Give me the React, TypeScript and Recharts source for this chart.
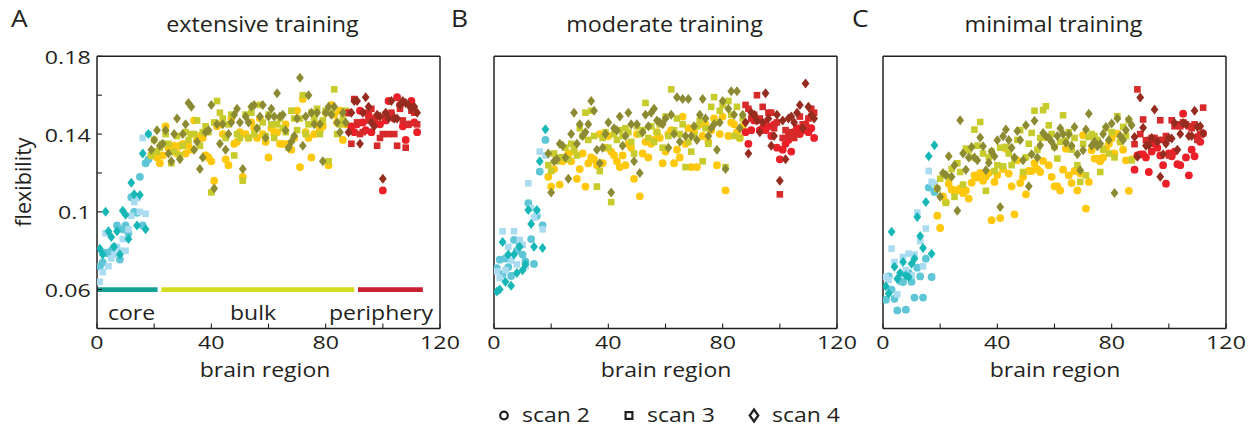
import React from "react";
import { ScatterChart, Scatter, XAxis, YAxis, ReferenceLine } from "recharts";

const W = 1258;
const H = 436;
const FONT = '"Open Sans", sans-serif';
const INK = "#231f20";
const SX = 1.22;

const X_TICKS = [0, 20, 40, 60, 80, 100, 120];
const X_LABELED = [0, 40, 80, 120];
const Y_TICKS = [0.06, 0.08, 0.1, 0.12, 0.14, 0.16, 0.18];
const Y_LABELED = [0.06, 0.1, 0.14, 0.18];

// regions 1..18 core, 19..87 bulk, 88..112 periphery
const CORE_LAST = 18;
const BULK_LAST = 87;

// extensive training
const extScan2 = [
  0.072, 0.074, 0.079, 0.0785, 0.08, 0.082, 0.093, 0.0755, 0.091, 0.093, 0.089, 0.1075, 0.1, 0.0995, 0.118, 0.093, 0.125, 0.127,
  0.129, 0.131, 0.128, 0.125, 0.129, 0.144, 0.133, 0.131, 0.134, 0.13, 0.134, 0.135, 0.13, 0.134, 0.132, 0.147, 0.137, 0.139,
  0.138, 0.129, 0.128, 0.126, 0.116, 0.144, 0.145, 0.14, 0.127, 0.124, 0.148, 0.135, 0.136, 0.141, 0.118, 0.14, 0.138, 0.146,
  0.143, 0.138, 0.148, 0.14, 0.136, 0.128, 0.143, 0.14, 0.141, 0.135, 0.135, 0.145, 0.135, 0.132, 0.138, 0.152, 0.123, 0.158,
  0.141, 0.138, 0.128, 0.14, 0.145, 0.142, 0.144, 0.151, 0.124, 0.155, 0.15, 0.146, 0.152, 0.137, 0.145,
  0.151, 0.144, 0.141, 0.145, 0.152, 0.146, 0.142, 0.15, 0.141, 0.147, 0.149, 0.145, 0.111, 0.147, 0.157, 0.15, 0.148, 0.159,
  0.155, 0.144, 0.137, 0.145, 0.157, 0.146, 0.141,
];
const extScan3 = [
  0.064, 0.069, 0.089, 0.072, 0.076, 0.078, 0.082, 0.08, 0.086, 0.08, 0.091, 0.098, 0.105, 0.107, 0.1, 0.138, 0.099, 0.14,
  0.129, 0.137, 0.131, 0.133, 0.135, 0.14, 0.135, 0.125, 0.131, 0.139, 0.129, 0.134, 0.141, 0.137, 0.14, 0.14, 0.147, 0.134,
  0.141, 0.144, 0.141, 0.11, 0.146, 0.157, 0.151, 0.148, 0.138, 0.145, 0.15, 0.129, 0.14, 0.138, 0.116, 0.15, 0.138, 0.151,
  0.14, 0.143, 0.155, 0.146, 0.139, 0.15, 0.145, 0.138, 0.145, 0.148, 0.143, 0.141, 0.133, 0.152, 0.148, 0.142, 0.148, 0.16,
  0.14, 0.145, 0.151, 0.148, 0.153, 0.14, 0.147, 0.152, 0.126, 0.151, 0.163, 0.14, 0.145, 0.148, 0.152,
  0.151, 0.135, 0.158, 0.146, 0.14, 0.141, 0.151, 0.147, 0.153, 0.148, 0.134, 0.138, 0.14, 0.15, 0.14, 0.151, 0.14, 0.134,
  0.153, 0.147, 0.133, 0.145, 0.152, 0.151, 0.145,
];
const extScan4 = [
  0.081, 0.078, 0.1, 0.09, 0.087, 0.082, 0.09, 0.078, 0.1005, 0.0985, 0.086, 0.115, 0.109, 0.093, 0.1087, 0.13, 0.091, 0.14,
  0.132, 0.137, 0.142, 0.134, 0.135, 0.142, 0.13, 0.126, 0.14, 0.148, 0.127, 0.14, 0.145, 0.156, 0.154, 0.132, 0.136, 0.122,
  0.128, 0.141, 0.142, 0.155, 0.112, 0.145, 0.135, 0.145, 0.132, 0.14, 0.146, 0.15, 0.153, 0.146, 0.122, 0.149, 0.146, 0.154,
  0.155, 0.143, 0.149, 0.155, 0.138, 0.149, 0.153, 0.149, 0.161, 0.149, 0.15, 0.142, 0.133, 0.136, 0.139, 0.148, 0.169, 0.134,
  0.149, 0.16, 0.151, 0.145, 0.151, 0.145, 0.126, 0.151, 0.154, 0.15, 0.154, 0.146, 0.141, 0.151, 0.146,
  0.141, 0.151, 0.157, 0.157, 0.135, 0.151, 0.159, 0.154, 0.146, 0.144, 0.15, 0.149, 0.117, 0.151, 0.148, 0.157, 0.148, 0.148,
  0.155, 0.157, 0.156, 0.155, 0.153, 0.154, 0.151,
];

// moderate training
const modScan2 = [
  0.071, 0.0754, 0.068, 0.076, 0.0716, 0.067, 0.0856, 0.08, 0.083, 0.078, 0.0745, 0.1045, 0.086, 0.0732, 0.098, 0.1207, 0.093, 0.137,
  0.118, 0.113, 0.122, 0.127, 0.114, 0.126, 0.128, 0.13, 0.126, 0.131, 0.117, 0.122, 0.13, 0.113, 0.125, 0.128, 0.127, 0.124,
  0.14, 0.125, 0.133, 0.139, 0.131, 0.129, 0.126, 0.123, 0.129, 0.124, 0.135, 0.133, 0.117, 0.14, 0.108, 0.13, 0.136, 0.128,
  0.135, 0.137, 0.141, 0.138, 0.125, 0.131, 0.14, 0.142, 0.125, 0.132, 0.128, 0.149, 0.135, 0.143, 0.123, 0.141, 0.123, 0.145,
  0.139, 0.145, 0.136, 0.142, 0.148, 0.124, 0.14, 0.149, 0.111, 0.139, 0.146, 0.145, 0.141, 0.138, 0.144,
  0.141, 0.135, 0.142, 0.147, 0.147, 0.142, 0.143, 0.142, 0.144, 0.139, 0.145, 0.133, 0.127, 0.132, 0.135, 0.137, 0.131, 0.141,
  0.143, 0.14, 0.142, 0.145, 0.141, 0.143, 0.138,
];
const modScan3 = [
  0.0694, 0.066, 0.09, 0.07, 0.082, 0.075, 0.09, 0.073, 0.0856, 0.083, 0.072, 0.1147, 0.102, 0.097, 0.1, 0.131, 0.091, 0.129,
  0.124, 0.121, 0.13, 0.126, 0.128, 0.128, 0.133, 0.127, 0.135, 0.132, 0.129, 0.143, 0.139, 0.151, 0.137, 0.152, 0.139, 0.113,
  0.121, 0.138, 0.141, 0.133, 0.105, 0.14, 0.137, 0.142, 0.139, 0.143, 0.141, 0.136, 0.13, 0.144, 0.14, 0.142, 0.156, 0.138,
  0.144, 0.136, 0.141, 0.145, 0.133, 0.149, 0.139, 0.163, 0.142, 0.148, 0.14, 0.145, 0.123, 0.136, 0.131, 0.139, 0.144, 0.147,
  0.126, 0.143, 0.135, 0.154, 0.159, 0.146, 0.152, 0.155, 0.123, 0.157, 0.15, 0.139, 0.154, 0.138, 0.148,
  0.155, 0.153, 0.148, 0.15, 0.16, 0.148, 0.154, 0.146, 0.151, 0.151, 0.143, 0.146, 0.109, 0.138, 0.142, 0.139, 0.141, 0.138,
  0.14, 0.149, 0.145, 0.144, 0.148, 0.153, 0.151,
];
const modScan4 = [
  0.059, 0.06, 0.0845, 0.064, 0.078, 0.062, 0.078, 0.0685, 0.082, 0.07, 0.073, 0.101, 0.0937, 0.082, 0.101, 0.126, 0.0814, 0.1425,
  0.13, 0.11, 0.126, 0.127, 0.135, 0.134, 0.128, 0.117, 0.14, 0.151, 0.135, 0.145, 0.139, 0.141, 0.145, 0.157, 0.152, 0.132,
  0.125, 0.133, 0.14, 0.146, 0.11, 0.143, 0.142, 0.149, 0.134, 0.139, 0.151, 0.145, 0.126, 0.145, 0.12, 0.141, 0.15, 0.144,
  0.151, 0.153, 0.147, 0.146, 0.145, 0.148, 0.133, 0.15, 0.14, 0.159, 0.136, 0.158, 0.139, 0.158, 0.139, 0.144, 0.137, 0.15,
  0.158, 0.148, 0.139, 0.143, 0.145, 0.132, 0.146, 0.157, 0.122, 0.153, 0.162, 0.15, 0.162, 0.143, 0.15,
  0.146, 0.13, 0.151, 0.15, 0.147, 0.141, 0.146, 0.161, 0.148, 0.134, 0.139, 0.15, 0.116, 0.147, 0.127, 0.148, 0.149, 0.146,
  0.151, 0.155, 0.143, 0.166, 0.154, 0.15, 0.148,
];

// minimal training
const minScan2 = [
  0.0548, 0.0668, 0.06, 0.0553, 0.0493, 0.0644, 0.0639, 0.0497, 0.0686, 0.064, 0.0559, 0.0713, 0.0668, 0.0559, 0.0759, 0.1125, 0.0665, 0.1102,
  0.098, 0.0917, 0.108, 0.105, 0.1145, 0.1115, 0.111, 0.111, 0.112, 0.1097, 0.111, 0.1068, 0.115, 0.1188, 0.1176, 0.12, 0.116, 0.118,
  0.12, 0.0957, 0.1154, 0.119, 0.0968, 0.122, 0.1325, 0.1197, 0.1131, 0.0987, 0.1265, 0.1148, 0.118, 0.109, 0.121, 0.121, 0.125, 0.122,
  0.1205, 0.1262, 0.1385, 0.124, 0.118, 0.1131, 0.1131, 0.111, 0.1217, 0.1325, 0.1188, 0.1148, 0.121, 0.111, 0.1197, 0.1394, 0.1017, 0.1154,
  0.1317, 0.1274, 0.1274, 0.126, 0.128, 0.1325, 0.135, 0.1377, 0.13, 0.1402, 0.136, 0.132, 0.1265, 0.1108, 0.127,
  0.1217, 0.129, 0.1296, 0.1296, 0.128, 0.1205, 0.131, 0.135, 0.133, 0.129, 0.124, 0.1145, 0.13, 0.1286, 0.131, 0.1245, 0.124, 0.1505,
  0.128, 0.1188, 0.132, 0.1286, 0.1385, 0.136, 0.1403,
];
const minScan3 = [
  0.0665, 0.065, 0.0811, 0.0742, 0.0576, 0.068, 0.0768, 0.07, 0.0785, 0.0673, 0.078, 0.0996, 0.085, 0.072, 0.0914, 0.121, 0.1154, 0.1145,
  0.112, 0.117, 0.1188, 0.1046, 0.118, 0.122, 0.1077, 0.125, 0.1205, 0.114, 0.1325, 0.1317, 0.128, 0.1423, 0.134, 0.1462, 0.13, 0.1108,
  0.128, 0.131, 0.121, 0.124, 0.133, 0.1234, 0.1334, 0.13, 0.124, 0.127, 0.137, 0.142, 0.1205, 0.128, 0.135, 0.1406, 0.152, 0.132,
  0.138, 0.1523, 0.1543, 0.1445, 0.14, 0.1334, 0.1274, 0.136, 0.1497, 0.1368, 0.141, 0.132, 0.138, 0.124, 0.1154, 0.135, 0.1188, 0.1385,
  0.14, 0.139, 0.137, 0.1205, 0.132, 0.143, 0.13, 0.141, 0.128, 0.1492, 0.136, 0.1437, 0.139, 0.1471, 0.1265,
  0.1348, 0.163, 0.14, 0.1475, 0.1368, 0.137, 0.138, 0.138, 0.137, 0.1471, 0.137, 0.139, 0.129, 0.1471, 0.144, 0.145, 0.144, 0.146,
  0.145, 0.144, 0.143, 0.145, 0.137, 0.14, 0.1536,
];
const minScan4 = [
  0.0617, 0.058, 0.0897, 0.0717, 0.0656, 0.0686, 0.0742, 0.0673, 0.0665, 0.0733, 0.0759, 0.0974, 0.0876, 0.0814, 0.1051, 0.1286, 0.0785, 0.1343,
  0.112, 0.1077, 0.12, 0.119, 0.1286, 0.118, 0.124, 0.1005, 0.1471, 0.13, 0.1217, 0.128, 0.1334, 0.128, 0.1265, 0.1382, 0.1337, 0.1214,
  0.1252, 0.131, 0.1286, 0.1368, 0.1025, 0.1389, 0.1423, 0.137, 0.133, 0.128, 0.1416, 0.137, 0.1265, 0.1445, 0.1131, 0.1296, 0.1468, 0.128,
  0.1342, 0.1406, 0.1389, 0.138, 0.136, 0.1334, 0.139, 0.143, 0.14, 0.1355, 0.1399, 0.134, 0.1437, 0.1296, 0.1214, 0.1317, 0.1423, 0.1505,
  0.134, 0.136, 0.1337, 0.135, 0.14, 0.1437, 0.137, 0.1454, 0.1097, 0.148, 0.139, 0.137, 0.142, 0.1475, 0.1445,
  0.1385, 0.1283, 0.1588, 0.1433, 0.134, 0.1342, 0.138, 0.1526, 0.136, 0.118, 0.1296, 0.135, 0.138, 0.1377, 0.1457, 0.132, 0.14, 0.1457,
  0.145, 0.139, 0.139, 0.152, 0.1437, 0.144, 0.1403,
];

const GROUPS = [
  { name: "core", first: 1, last: CORE_LAST, colors: ["#5ec6d6", "#aadcf1", "#16b7b6"] },
  { name: "bulk", first: CORE_LAST + 1, last: BULK_LAST, colors: ["#ffc80c", "#c7cb2c", "#8c8b33"] },
  { name: "periphery", first: BULK_LAST + 1, last: 112, colors: ["#eb1f28", "#d72a2b", "#962c20"] },
];
const BAR_COLORS = ["#15a196", "#d6dd21", "#c81f33"];
const BAR_SPANS = [[0, 21.2], [22.5, 90], [91.3, 114]];
const SHAPES = ["circle", "square", "diamond"];

const PLOT_TOP = 56.3;
const PLOT_BOTTOM = 328.5;

const PANELS = [
  { letter: "A", title: "extensive training", left: 97, right: 440, scans: [extScan2, extScan3, extScan4], first: true },
  { letter: "B", title: "moderate training", left: 494, right: 837, scans: [modScan2, modScan3, modScan4], first: false },
  { letter: "C", title: "minimal training", left: 883, right: 1226, scans: [minScan2, minScan3, minScan4], first: false },
];

function points(values: number[], first: number, last: number) {
  return values.slice(first - 1, last).map((v, i) => ({ x: first + i, y: v }));
}

function marker(kind: string, color: string) {
  return (props: any) => {
    const { cx, cy } = props;
    if (cx == null || cy == null) return <g />;
    if (kind === "circle") return <circle cx={cx} cy={cy} r={3.9} fill={color} />;
    if (kind === "square") return <rect x={cx - 3.3} y={cy - 3.3} width={6.6} height={6.6} fill={color} />;
    return (
      <polygon
        points={`${cx},${cy - 5} ${cx + 3.9},${cy} ${cx},${cy + 5} ${cx - 3.9},${cy}`}
        fill={color}
      />
    );
  };
}

const XTick = (props: any) => {
  const { x, y, payload } = props;
  if (!X_LABELED.includes(payload.value)) return <g />;
  return (
    <text
      transform={`translate(${x},${y}) scale(${SX},1)`}
      textAnchor="middle"
      dy={6.8}
      fontFamily={FONT}
      fontWeight={500}
      fontSize={19}
      fill={INK}
    >
      {payload.value}
    </text>
  );
};

const YTick = (props: any) => {
  const { x, y, payload } = props;
  if (!Y_LABELED.includes(payload.value)) return <g />;
  return (
    <text
      transform={`translate(${x},${y}) scale(${SX},1)`}
      textAnchor="end"
      dy={7.6}
      fontFamily={FONT}
      fontWeight={500}
      fontSize={19}
      fill={INK}
    >
      {String(payload.value)}
    </text>
  );
};

const axisLine = { stroke: INK, strokeWidth: 1.5 };
const tickLine = { stroke: INK, strokeWidth: 1.1 };

function Panel({ panel }: { panel: (typeof PANELS)[number] }) {
  const margin = {
    top: PLOT_TOP - 10,
    right: W - panel.right - 10,
    bottom: H - PLOT_BOTTOM - 40,
    left: panel.left - 40,
  };
  return (
    <div style={{ position: "absolute", left: 0, top: 0 }}>
      <ScatterChart width={W} height={H} margin={margin}>
        <XAxis
          type="number"
          dataKey="x"
          domain={[0, 120]}
          ticks={X_TICKS}
          interval={0}
          height={40}
          tickSize={-5}
          tickMargin={19}
          tick={<XTick />}
          axisLine={axisLine}
          tickLine={tickLine}
          allowDataOverflow
        />
        <XAxis
          xAxisId="top"
          orientation="top"
          type="number"
          domain={[0, 120]}
          ticks={X_TICKS}
          interval={0}
          height={10}
          tickSize={-5}
          tick={false}
          axisLine={axisLine}
          tickLine={tickLine}
          allowDataOverflow
        />
        <YAxis
          type="number"
          dataKey="y"
          domain={[0.04, 0.18]}
          ticks={Y_TICKS}
          interval={0}
          width={40}
          tickSize={-5}
          tickMargin={11.3}
          tick={panel.first ? <YTick /> : false}
          axisLine={axisLine}
          tickLine={tickLine}
          allowDataOverflow
        />
        <YAxis
          yAxisId="right"
          orientation="right"
          type="number"
          domain={[0.04, 0.18]}
          ticks={Y_TICKS}
          interval={0}
          width={10}
          tickSize={-5}
          tick={false}
          axisLine={axisLine}
          tickLine={tickLine}
          allowDataOverflow
        />
        {panel.first &&
          BAR_SPANS.map((s, i) => (
            <ReferenceLine
              key={`bar${i}`}
              segment={[{ x: s[0], y: 0.06 }, { x: s[1], y: 0.06 }]}
              stroke={BAR_COLORS[i]}
              strokeWidth={4.8}
              ifOverflow="visible"
            />
          ))}
        {SHAPES.map((kind, si) =>
          GROUPS.map((g) => (
            <Scatter
              key={`${kind}-${g.name}`}
              data={points(panel.scans[si], g.first, g.last)}
              shape={marker(kind, g.colors[si])}
              isAnimationActive={false}
            />
          ))
        )}
      </ScatterChart>
    </div>
  );
}

function Txt({ x, y, size = 19, sx = SX, anchor = "middle", children, rotate }: any) {
  const tf = rotate
    ? `translate(${x},${y}) rotate(${rotate}) scale(${sx},1)`
    : `translate(${x},${y}) scale(${sx},1)`;
  return (
    <text transform={tf} textAnchor={anchor} fontFamily={FONT} fontWeight={500} fontSize={size} fill={INK}>
      {children}
    </text>
  );
}

const TITLE_X = [262.5, 664.5, 1053.5];
const LETTER_X = [11, 451, 852];
const XLABEL_X = [265, 666, 1055];
const GROUP_LABELS = [
  { text: "core", x: 131.5 },
  { text: "bulk", x: 253 },
  { text: "periphery", x: 381 },
];
const LEGEND = [
  { text: "scan 2", shape: "circle", x: 504 },
  { text: "scan 3", shape: "square", x: 629 },
  { text: "scan 4", shape: "diamond", x: 754 },
];

export default function App() {
  return (
    <div style={{ position: "absolute", left: 0, top: 0, width: W, height: H, background: "#fff" }}>
      {PANELS.map((p) => (
        <Panel key={p.letter} panel={p} />
      ))}
      <svg width={W} height={H} style={{ position: "absolute", left: 0, top: 0, pointerEvents: "none" }}>
        {PANELS.map((p, i) => (
          <g key={p.letter}>
            <Txt x={LETTER_X[i]} y={27} size={24} sx={1.1} anchor="start">
              {p.letter}
            </Txt>
            <Txt x={TITLE_X[i]} y={32} size={21} sx={1.11}>
              {p.title}
            </Txt>
            <Txt x={XLABEL_X[i]} y={377} size={19.5} sx={1.18}>
              brain region
            </Txt>
          </g>
        ))}
        <Txt x={31} y={182} size={21.5} sx={1} rotate={-90}>
          flexibility
        </Txt>
        {GROUP_LABELS.map((g) => (
          <Txt key={g.text} x={g.x} y={320} size={19.5} sx={1.18}>
            {g.text}
          </Txt>
        ))}
        {LEGEND.map((l) => (
          <g key={l.text}>
            {l.shape === "circle" && <circle cx={l.x} cy={415.5} r={3.8} fill="none" stroke={INK} strokeWidth={2.2} />}
            {l.shape === "square" && (
              <rect x={l.x - 3.4} y={412.1} width={6.8} height={6.8} fill="none" stroke={INK} strokeWidth={2.2} />
            )}
            {l.shape === "diamond" && (
              <polygon
                points={`${l.x},${409.5} ${l.x + 4.3},${415.5} ${l.x},${421.5} ${l.x - 4.3},${415.5}`}
                fill="none"
                stroke={INK}
                strokeWidth={2.2}
              />
            )}
            <Txt x={l.x + 18} y={422} size={20} sx={1.15} anchor="start">
              {l.text}
            </Txt>
          </g>
        ))}
      </svg>
    </div>
  );
}
